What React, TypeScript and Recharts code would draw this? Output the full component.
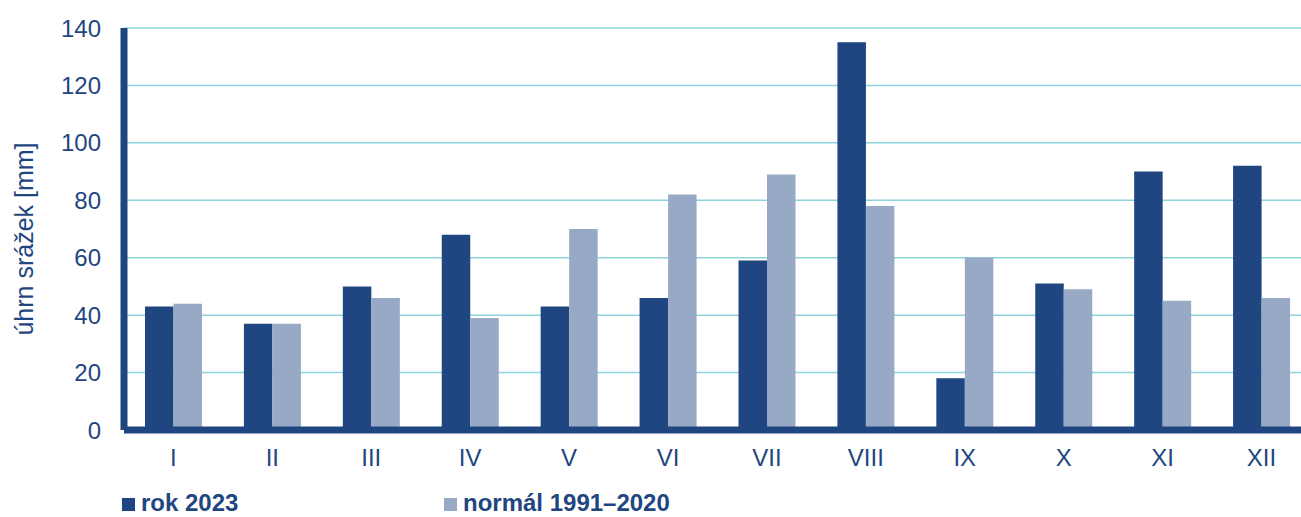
import { Bar, BarChart, CartesianGrid, Label, XAxis, YAxis } from "recharts";

const months = ["I", "II", "III", "IV", "V", "VI", "VII", "VIII", "IX", "X", "XI", "XII"];
const rain2023 = [43, 37, 50, 68, 43, 46, 59, 135, 18, 51, 90, 92];
const normal19912020 = [44, 37, 46, 39, 70, 82, 89, 78, 60, 49, 45, 46];
const yTicks = [0, 20, 40, 60, 80, 100, 120, 140];

const DARK = "#1f4680";
const LIGHT = "#98a9c5";
const GRID = "#8dd4de";
const FONT = "'Liberation Sans', Arial, sans-serif";

const chartData = months.map((month, index) => ({
  month,
  rok2023: rain2023[index],
  normal: normal19912020[index],
}));

function AxisTitle({ viewBox }: { viewBox?: { x: number; y: number; width: number; height: number } }) {
  if (!viewBox) return null;
  const x = viewBox.x + 24;
  const y = viewBox.y + viewBox.height / 2 + 10;
  return (
    <text
      x={x}
      y={y}
      transform={`rotate(-90 ${x} ${y})`}
      textAnchor="middle"
      dominantBaseline="central"
      fill={DARK}
      fontSize={25}
      fontFamily={FONT}
    >
      úhrn srážek [mm]
    </text>
  );
}

export default function App() {
  return (
    <div
      style={{
        position: "fixed",
        left: 0,
        top: 0,
        width: 1301,
        height: 517,
        overflow: "hidden",
        background: "#ffffff",
        fontFamily: FONT,
      }}
    >
      <BarChart
        width={1320}
        height={517}
        data={chartData}
        margin={{ top: 28, right: 9, left: 0, bottom: 0 }}
        barGap={0}
        barSize={28.5}
      >
        <CartesianGrid stroke={GRID} strokeWidth={1.5} vertical={false} />
        <XAxis
          dataKey="month"
          height={87}
          axisLine={{ stroke: DARK, strokeWidth: 7 }}
          tickLine={false}
          tickSize={0}
          tickMargin={19}
          tick={{ fill: DARK, fontSize: 24, fontFamily: FONT }}
          interval={0}
        />
        <YAxis
          width={124}
          domain={[0, 140]}
          ticks={yTicks}
          axisLine={{ stroke: DARK, strokeWidth: 7 }}
          tickLine={false}
          tickSize={0}
          tickMargin={23}
          tick={{ fill: DARK, fontSize: 24, fontFamily: FONT }}
        >
          <Label content={<AxisTitle />} />
        </YAxis>
        <Bar dataKey="rok2023" fill={DARK} isAnimationActive={false} />
        <Bar dataKey="normal" fill={LIGHT} isAnimationActive={false} />
      </BarChart>

      {/* legend sits near the bottom edge, as in the source picture */}
      <div style={{ position: "absolute", left: 122, top: 493, display: "flex", alignItems: "flex-start" }}>
        <div style={{ width: 322, display: "flex" }}>
          <span style={{ width: 13, height: 13, marginTop: 5, background: DARK, display: "inline-block" }} />
          <span style={{ marginLeft: 6, fontSize: 24, lineHeight: "20px", fontWeight: 700, color: DARK }}>rok 2023</span>
        </div>
        <div style={{ display: "flex" }}>
          <span style={{ width: 13, height: 13, marginTop: 5, background: LIGHT, display: "inline-block" }} />
          <span style={{ marginLeft: 6, fontSize: 24, lineHeight: "20px", fontWeight: 700, color: DARK }}>normál 1991–2020</span>
        </div>
      </div>
    </div>
  );
}
